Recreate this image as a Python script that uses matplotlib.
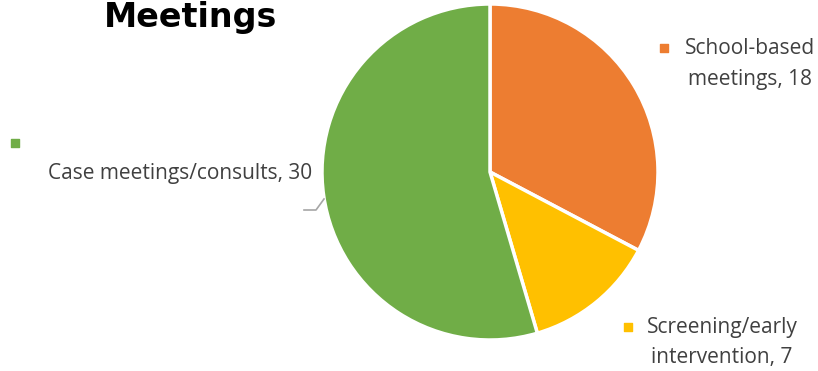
import matplotlib.pyplot as plt

labels = ["School-based\nmeetings", "Screening/early\nintervention", "Case meetings/consults"]
values = [18, 7, 30]
colors = ["#ED7D31", "#FFC000", "#70AD47"]

W, H = 818, 371
fig = plt.figure(figsize=(W / 100, H / 100), dpi=100)
ax = fig.add_axes([0, 0, 1, 1])

ax.pie(values, colors=colors, startangle=90, counterclock=False,
       center=(490, H - 172), radius=168,
       wedgeprops=dict(edgecolor="white", linewidth=2.5))
ax.set_xlim(0, W)
ax.set_ylim(0, H)
ax.set_aspect("equal")
ax.axis("off")

txt = dict(color="#404040", fontsize=15, family="Open Sans")

# title
ax.text(104, H - 27, "Meetings", fontsize=24, fontweight="bold",
        family="DejaVu Sans", color="black", va="baseline", ha="left")

# school-based label
ax.scatter([664], [H - 48], marker="s", s=34, color=colors[0])
ax.text(750, H - 49, "School-based", ha="center", va="center", **txt)
ax.text(750, H - 79, "meetings, %d" % values[0], ha="center", va="center", **txt)

# screening label
ax.scatter([628], [H - 327], marker="s", s=34, color=colors[1])
ax.text(722, H - 328, "Screening/early", ha="center", va="center", **txt)
ax.text(722, H - 357, "intervention, %d" % values[1], ha="center", va="center", **txt)

# case meetings label
ax.scatter([15], [H - 143], marker="s", s=34, color=colors[2])
ax.text(180, H - 173, "Case meetings/consults, %d" % values[2], ha="center", va="center", **txt)
ax.plot([304, 316, 324], [H - 210, H - 210, H - 199], color="#A6A6A6", lw=1.2)

fig.savefig("out.png", dpi=100)
